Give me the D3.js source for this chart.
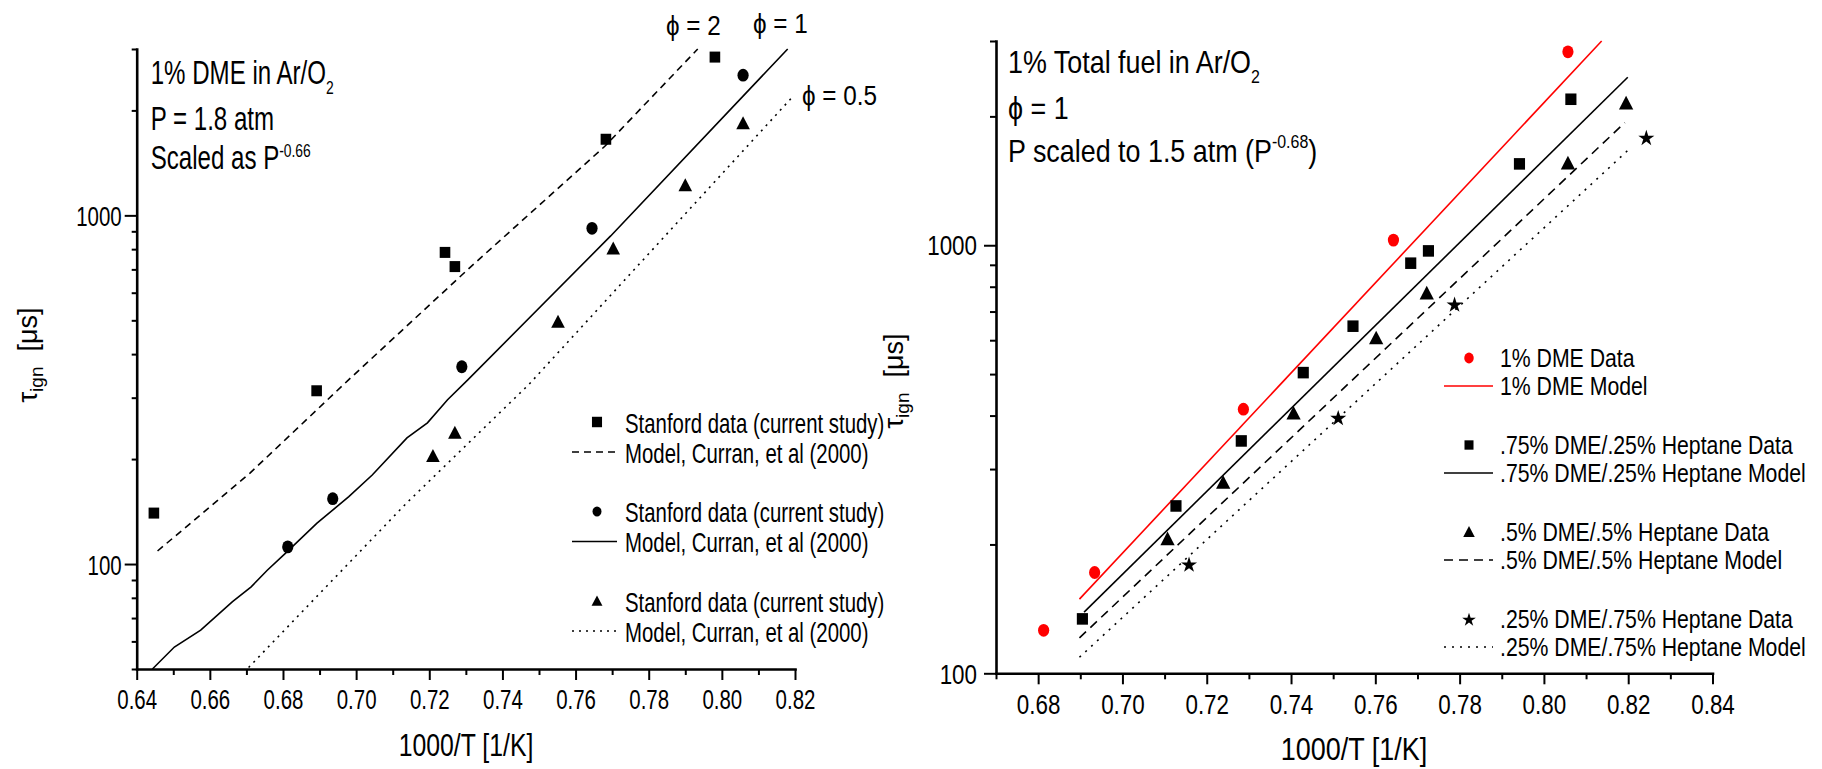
<!DOCTYPE html>
<html>
<head>
<meta charset="utf-8">
<script src="https://cdn.jsdelivr.net/npm/d3@7"></script>
<style>
body{margin:0;background:#fff;}
svg{display:block;}
</style>
</head>
<body>
<script>
//Left panel: 1% DME in Ar/O2, data and model for three equivalence ratios
let phi2X = [0.6447, 0.6892, 0.7243, 0.7270, 0.7683, 0.7981];
let phi2Y = [140, 314, 783, 713, 1653, 2844];
let phi1X = [0.6813, 0.6936, 0.7289, 0.7645, 0.8058];
let phi1Y = [112, 154, 368, 918, 2523];
let phi05X = [0.7210, 0.7270, 0.7552, 0.7703, 0.7900, 0.8058];
let phi05Y = [204, 238, 495, 804, 1219, 1837];

let phi2ModelX = [0.6457, 0.6709, 0.6980, 0.7314, 0.7680, 0.7934];
let phi2ModelY = [109, 182, 338, 713, 1578, 3000];
let phi1ModelX = [0.6443, 0.6503, 0.6575, 0.6662, 0.6713, 0.6757, 0.6805, 0.6893, 0.6980, 0.7044, 0.7139, 0.7195, 0.7250, 0.7306, 0.7696, 0.8180];
let phi1ModelY = [50, 57.8, 64.6, 78, 86, 96, 107, 131, 156, 180, 230, 254, 296, 338, 873, 3000];
let phi05ModelX = [0.6706, 0.7139, 0.7472, 0.8196];
let phi05ModelY = [50.5, 150, 327, 2203];

//Right panel: 1% total fuel, DME / heptane blends
let dmeX = [0.6813, 0.6934, 0.7287, 0.7643, 0.8057];
let dmeY = [126, 172, 414, 1028, 2831];
let mix75X = [0.6905, 0.7127, 0.7282, 0.7429, 0.7547, 0.7684, 0.7726, 0.7942, 0.8064];
let mix75Y = [134, 246, 349, 504, 647, 908, 970, 1549, 2193];
let mix50X = [0.7107, 0.7239, 0.7406, 0.7602, 0.7722, 0.8057, 0.8195];
let mix50Y = [206, 279, 405, 607, 773, 1555, 2148];
let mix25X = [0.7158, 0.7512, 0.7788, 0.8243];
let mix25Y = [180, 396, 729, 1787];

let dmeModelX = [0.6898, 0.8137];
let dmeModelY = [149, 3000];
let mix75ModelX = [0.6909, 0.8199];
let mix75ModelY = [139, 2469];
let mix50ModelX = [0.6898, 0.8192];
let mix50ModelY = [121, 1934];
let mix25ModelX = [0.6898, 0.8203];
let mix25ModelY = [109, 1679];

//Ticks
let leftXTicks = [0.64, 0.66, 0.68, 0.70, 0.72, 0.74, 0.76, 0.78, 0.80, 0.82];
let leftXMinor = [0.65, 0.67, 0.69, 0.71, 0.73, 0.75, 0.77, 0.79, 0.81];
let leftYTicks = [100, 1000];
let leftYMinor = [50, 60, 70, 80, 90, 200, 300, 400, 500, 600, 700, 800, 900, 2000, 3000];
let rightXTicks = [0.68, 0.70, 0.72, 0.74, 0.76, 0.78, 0.80, 0.82, 0.84];
let rightXMinor = [0.67, 0.69, 0.71, 0.73, 0.75, 0.77, 0.79, 0.81, 0.83];
let rightYTicks = [100, 1000];
let rightYMinor = [200, 300, 400, 500, 600, 700, 800, 900, 2000, 3000];

//Legend labels
let leftLegend = ["Stanford data (current study)", "Model, Curran, et al (2000)"];
let rightLegend = [
	["1% DME Data", "1% DME Model"],
	[".75% DME/.25% Heptane Data", ".75% DME/.25% Heptane Model"],
	[".5% DME/.5% Heptane Data", ".5% DME/.5% Heptane Model"],
	[".25% DME/.75% Heptane Data", ".25% DME/.75% Heptane Model"]
];

let width = 1822;
let height = 769;

let svg = d3.select("body").append("svg")
	.attr("width", width)
	.attr("height", height)
	.style("font-family", "'Liberation Sans', Arial, sans-serif");

//Utility: text squeezed horizontally (the figure is stretched vertically)
let addText = function(parent, x, y, parts, size, sx, anchor, rotate){
	let t = parent.append("text")
		.attr("transform", "translate(" + x + "," + y + ")" + (rotate ? " rotate(" + rotate + ")" : "") + " scale(" + sx + ",1)")
		.attr("font-size", size)
		.attr("text-anchor", anchor || "start")
		.attr("fill", "black")
		.style("white-space", "pre");
	parts.forEach(function(p){
		t.append("tspan")
			.attr("font-size", p.size || size)
			.attr("dy", p.dy || 0)
			.text(p.text);
	});
	return t;
}

//Utility: markers
let drawMarker = function(parent, shape, cx, cy, k, color){
	let g = parent.append("g").attr("transform", "translate(" + cx + "," + cy + ") scale(" + k + ")");
	if(shape == "square"){
		g.append("rect").attr("x", -5.3).attr("y", -5.5).attr("width", 10.6).attr("height", 11).attr("fill", color);
	}else if(shape == "circle"){
		g.append("ellipse").attr("rx", 5.6).attr("ry", 6.4).attr("fill", color);
	}else if(shape == "triangle"){
		g.append("path").attr("d", "M0,-7L6.8,6L-6.8,6Z").attr("fill", color);
	}else if(shape == "star"){
		g.append("path").attr("d", d3.symbol(d3.symbolStar, 80)()).attr("transform", "translate(0,1)").attr("fill", color);
	}
}

//Axes for one panel
let drawAxes = function(p){
	let y0 = p.y.range()[0];
	let x0 = p.x.range()[0];

	let minors = [
		svg.append("g").attr("transform", "translate(0," + y0 + ")")
			.call(d3.axisBottom(p.x).tickValues(p.xMinor).tickFormat("").tickSize(p.xMinorLen).tickSizeOuter(0)),
		svg.append("g").attr("transform", "translate(" + x0 + ",0)")
			.call(d3.axisLeft(p.y).tickValues(p.yMinor).tickFormat("").tickSize(p.yMinorLen).tickSizeOuter(0))
	];
	minors.forEach(function(g){
		g.select(".domain").remove();
		g.selectAll(".tick line").attr("stroke-width", 2);
	});

	let gx = svg.append("g").attr("transform", "translate(0," + y0 + ")")
		.call(d3.axisBottom(p.x).tickValues(p.xTicks).tickFormat(d3.format(".2f")).tickSize(p.xMajorLen).tickSizeOuter(0));
	let gy = svg.append("g").attr("transform", "translate(" + x0 + ",0)")
		.call(d3.axisLeft(p.y).tickValues(p.yTicks).tickFormat(d3.format("d")).tickSize(p.yMajorLen).tickSizeOuter(0));

	[gx, gy].forEach(function(g){
		g.attr("font-family", null).attr("font-size", null);
		g.select(".domain").attr("stroke-width", 2.6).attr("stroke-linecap", "square");
		g.selectAll(".tick line").attr("stroke-width", 2);
		g.selectAll(".tick text").attr("font-size", p.tickFont).attr("fill", "black");
	});

	gx.selectAll(".tick text")
		.attr("y", p.xLabelDy)
		.attr("dy", null)
		.attr("transform", "scale(" + p.sx + ",1)");
	gy.selectAll(".tick text")
		.attr("x", -p.yLabelGap / p.sx)
		.attr("dy", "0.36em")
		.attr("transform", "scale(" + p.sx + ",1)");
}

//Utility: model line
let drawLine = function(p, xs, ys, color, dash){
	let line = d3.line()
		.x(function(d){ return p.x(d[0]); })
		.y(function(d){ return p.y(d[1]); });
	svg.append("path")
		.attr("d", line(d3.zip(xs, ys)))
		.attr("fill", "none")
		.attr("stroke", color)
		.attr("stroke-width", 1.6)
		.attr("stroke-dasharray", dash);
}

//Utility: data points
let drawPoints = function(p, xs, ys, shape, k, color){
	d3.zip(xs, ys).forEach(function(d){
		drawMarker(svg, shape, p.x(d[0]), p.y(d[1]), k, color);
	});
}

//Left panel
let left = {
	x: d3.scaleLinear().domain([0.64, 0.82]).range([136.7, 795]),
	y: d3.scaleLog().domain([50, 3000]).range([669, 49]),
	xTicks: leftXTicks, xMinor: leftXMinor, yTicks: leftYTicks, yMinor: leftYMinor,
	xMajorLen: 11, xMinorLen: 6, yMajorLen: 12, yMinorLen: 5,
	xLabelDy: 40, yLabelGap: 15, tickFont: 28, sx: 0.73
};

//Right panel
let right = {
	x: d3.scaleLinear().domain([0.67, 0.84]).range([996, 1712.5]),
	y: d3.scaleLog().domain([100, 3000]).range([673.3, 41]),
	xTicks: rightXTicks, xMinor: rightXMinor, yTicks: rightYTicks, yMinor: rightYMinor,
	xMajorLen: 11, xMinorLen: 6, yMajorLen: 12, yMinorLen: 6,
	xLabelDy: 41, yLabelGap: 19, tickFont: 27, sx: 0.83
};

drawAxes(left);
drawAxes(right);

//Left model lines and data
drawLine(left, phi2ModelX, phi2ModelY, "black", "7,5");
drawLine(left, phi1ModelX, phi1ModelY, "black", null);
drawLine(left, phi05ModelX, phi05ModelY, "black", "2,5");
drawPoints(left, phi2X, phi2Y, "square", 1, "black");
drawPoints(left, phi1X, phi1Y, "circle", 1, "black");
drawPoints(left, phi05X, phi05Y, "triangle", 1, "black");

//Right model lines and data
drawLine(right, dmeModelX, dmeModelY, "#ff0000", null);
drawLine(right, mix75ModelX, mix75ModelY, "black", null);
drawLine(right, mix50ModelX, mix50ModelY, "black", "9,6");
drawLine(right, mix25ModelX, mix25ModelY, "black", "2,6");
drawPoints(right, dmeX, dmeY, "circle", 1, "#ff0000");
drawPoints(right, mix75X, mix75Y, "square", 1.05, "black");
drawPoints(right, mix50X, mix50Y, "triangle", 1.05, "black");
drawPoints(right, mix25X, mix25Y, "star", 1, "black");

//Axis titles
addText(svg, 466, 756, [{text: "1000/T [1/K]"}], 31, 0.8, "middle");
addText(svg, 1354, 760, [{text: "1000/T [1/K]"}], 31, 0.87, "middle");
addText(svg, 37, 355, [{text: "\u03c4"}, {text: "ign", size: 19, dy: 6}, {text: "  [\u03bcs]", dy: -6}], 27, 1, "middle", -90);
addText(svg, 903, 381, [{text: "\u03c4"}, {text: "ign", size: 19, dy: 6}, {text: "  [\u03bcs]", dy: -6}], 27, 1, "middle", -90);

//Left annotations
addText(svg, 150.7, 84, [{text: "1% DME in Ar/O"}, {text: "2", size: 19, dy: 10}], 33, 0.73);
addText(svg, 150.7, 130, [{text: "P = 1.8 atm"}], 33, 0.73);
addText(svg, 150.7, 169, [{text: "Scaled as P"}, {text: "-0.66", size: 19, dy: -12}], 33, 0.73);
addText(svg, 666, 35, [{text: "\u03d5 = 2"}], 27, 0.9);
addText(svg, 753, 33, [{text: "\u03d5 = 1"}], 27, 0.9);
addText(svg, 802, 105, [{text: "\u03d5 = 0.5"}], 27, 0.9);

//Right annotations
addText(svg, 1008, 73, [{text: "1% Total fuel in Ar/O"}, {text: "2", size: 19, dy: 10}], 32, 0.84);
addText(svg, 1008, 119, [{text: "\u03d5 = 1"}], 32, 0.84);
addText(svg, 1008, 162, [{text: "P scaled to 1.5 atm (P"}, {text: "-0.68", size: 19, dy: -14}, {text: ")", dy: 14}], 32, 0.84);

//Left legend
let leftShapes = ["square", "circle", "triangle"];
let leftDashes = ["7,5", null, "2,5"];
leftShapes.forEach(function(s, i){
	let cy = 422 + i * 89.5;
	drawMarker(svg, s, 597, cy, s == "square" ? 0.95 : 0.8, "black");
	addText(svg, 625, cy + 10.5, [{text: leftLegend[0]}], 28.5, 0.715);
	svg.append("line")
		.attr("x1", 572).attr("x2", 617)
		.attr("y1", cy + 30).attr("y2", cy + 30)
		.attr("stroke", "black")
		.attr("stroke-width", 1.6)
		.attr("stroke-dasharray", leftDashes[i]);
	addText(svg, 625, cy + 40.5, [{text: leftLegend[1]}], 28.5, 0.715);
});

//Right legend
let rightShapes = ["circle", "square", "triangle", "star"];
let rightColors = ["#ff0000", "black", "black", "black"];
let rightDashes = [null, null, "9,6", "2,6"];
rightShapes.forEach(function(s, i){
	let cy = 358 + i * 87;
	drawMarker(svg, s, 1469, cy, 0.85, rightColors[i]);
	addText(svg, 1500, cy + 9, [{text: rightLegend[i][0]}], 25, 0.85);
	svg.append("line")
		.attr("x1", 1444).attr("x2", 1493)
		.attr("y1", cy + 28).attr("y2", cy + 28)
		.attr("stroke", rightColors[i])
		.attr("stroke-width", 1.6)
		.attr("stroke-dasharray", rightDashes[i]);
	addText(svg, 1500, cy + 37, [{text: rightLegend[i][1]}], 25, 0.85);
});
</script>
</body>
</html>
